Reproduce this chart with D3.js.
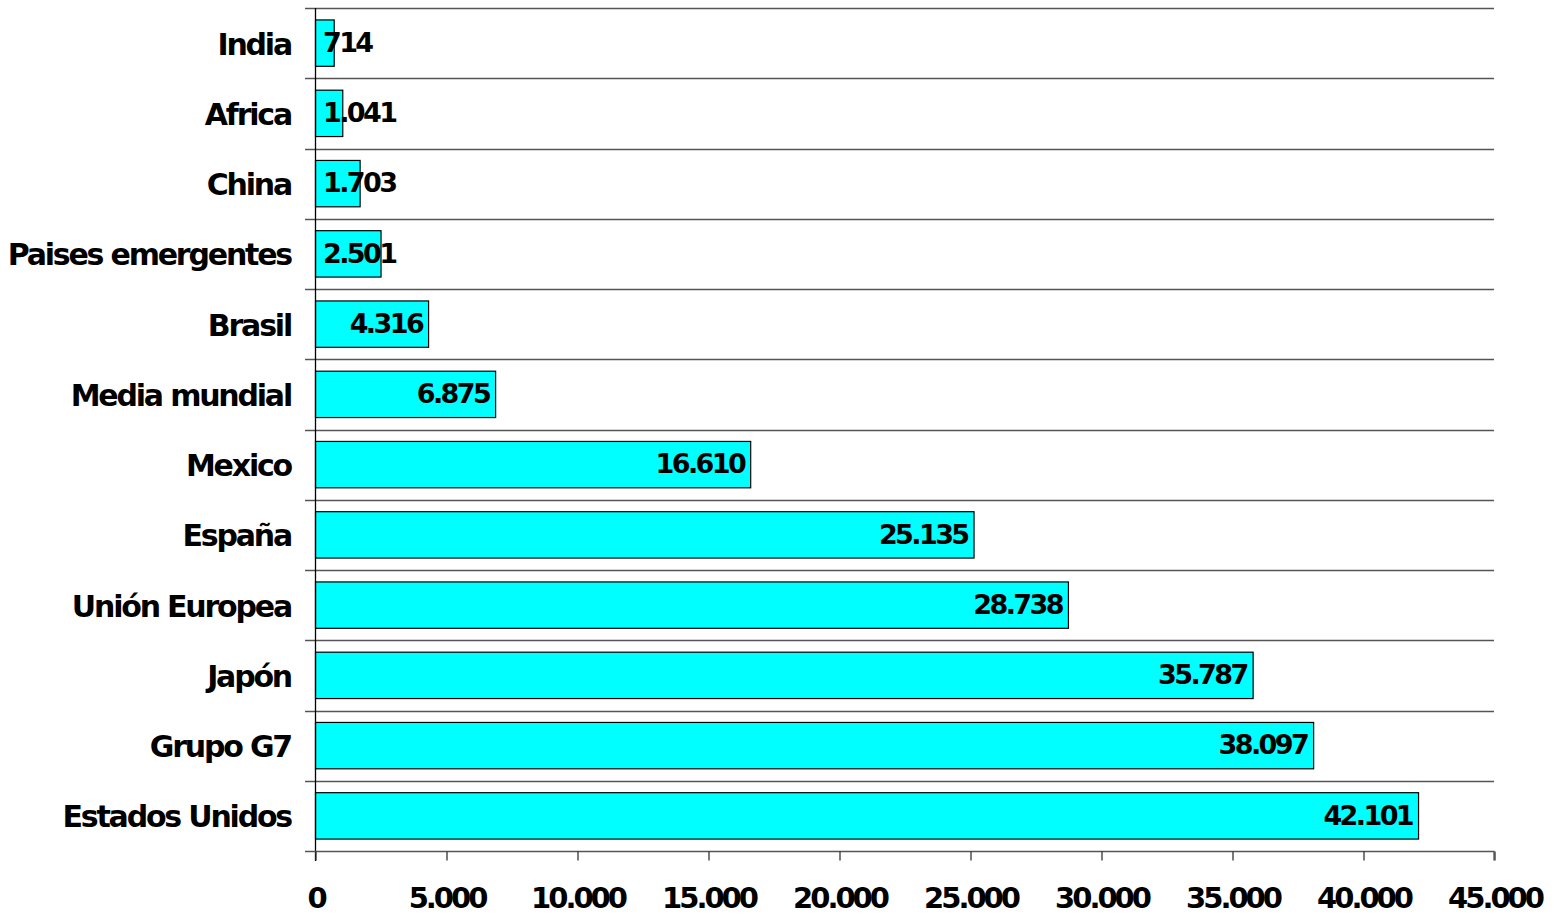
<!DOCTYPE html>
<html>
<head>
<meta charset="utf-8">
<script src="https://cdn.jsdelivr.net/npm/d3@7"></script>
<style>
  html, body { margin: 0; padding: 0; background: #fff; }
  svg { display: block; }
  text { font-family: "DejaVu Sans", Verdana, sans-serif; font-weight: bold; fill: #000; }
</style>
</head>
<body>
<svg id="chart" width="1554" height="916"></svg>
<script>
// GDP per capita by region / country
const categories = [
  "India", "Africa", "China", "Paises emergentes", "Brasil", "Media mundial",
  "Mexico", "España", "Unión Europea", "Japón", "Grupo G7", "Estados Unidos"
];
const values = [714, 1041, 1703, 2501, 4316, 6875, 16610, 25135, 28738, 35787, 38097, 42101];
const xTicks = [0, 5000, 10000, 15000, 20000, 25000, 30000, 35000, 40000, 45000];

const fmt = v => d3.format(",")(v).replace(/,/g, ".");

const svg = d3.select("#chart");
const plotLeft = 315, plotRight = 1494, plotTop = 8, plotBottom = 851;
const fontStack = '"DejaVu Sans", Verdana, sans-serif';

const x = d3.scaleLinear().domain([0, 45000]).range([plotLeft, plotRight]);
const y = d3.scaleBand().domain(categories).range([plotTop, plotBottom]).paddingInner(0.34).paddingOuter(0.17);

// band boundaries for horizontal grid lines
const step = (plotBottom - plotTop) / categories.length;
const bounds = d3.range(categories.length + 1).map(i => plotTop + i * step);

svg.append("g").selectAll("line").data(bounds.slice(0, -1)).join("line")
  .attr("x1", plotLeft - 10).attr("x2", plotRight)
  .attr("y1", d => Math.round(d) + 0.5).attr("y2", d => Math.round(d) + 0.5)
  .attr("stroke", "#555").attr("stroke-width", 1.3);

// bars
svg.append("g").selectAll("rect").data(categories).join("rect")
  .attr("x", x(0) + 0.5)
  .attr("y", d => y(d))
  .attr("width", (d, i) => x(values[i]) - x(0))
  .attr("height", y.bandwidth())
  .attr("fill", "#00ffff")
  .attr("stroke", "#000")
  .attr("stroke-width", 1.2);

// y axis line
svg.append("line").attr("x1", plotLeft + 0.5).attr("x2", plotLeft + 0.5)
  .attr("y1", plotTop).attr("y2", plotBottom + 10).attr("stroke", "#000").attr("stroke-width", 1.3);

// x axis
const xAxis = d3.axisBottom(x).tickValues(xTicks).tickSize(9).tickPadding(27).tickFormat(fmt);
const gx = svg.append("g").attr("transform", `translate(0.5,${Math.round(plotBottom) + 0.5})`).call(xAxis);
gx.select(".domain").attr("d", `M${plotLeft - 10 - 0.5},0H${plotRight - 0.5}V9`).attr("stroke", "#555").attr("stroke-width", 1.3);
gx.selectAll(".tick line").attr("stroke", "#333").attr("stroke-width", 1.3);
gx.selectAll(".tick text")
  .style("font-family", fontStack)
  .style("font-weight", "bold")
  .style("font-size", "29px")
  .style("letter-spacing", "-3px")
  .attr("fill", "#000");

// category labels
svg.append("g").selectAll("text").data(categories).join("text")
  .attr("x", 291)
  .attr("y", d => y(d) + y.bandwidth() / 2)
  .attr("dy", "0.38em")
  .attr("text-anchor", "end")
  .style("font-size", "30px")
  .style("letter-spacing", "-2.2px")
  .text(d => d);

// value labels at bar ends
svg.append("g").selectAll("text").data(categories).join("text")
  .attr("x", (d, i) => x(values[i]) - 6)
  .attr("y", d => y(d) + y.bandwidth() / 2)
  .attr("dy", "0.32em")
  .attr("text-anchor", "end")
  .style("font-size", "27px")
  .style("letter-spacing", "-2.6px")
  .text((d, i) => fmt(values[i]))
  .each(function () {
    const b = this.getBBox();
    if (b.x < plotLeft + 8) {
      d3.select(this).attr("text-anchor", "start").attr("x", plotLeft + 8);
    }
  });
</script>
</body>
</html>
